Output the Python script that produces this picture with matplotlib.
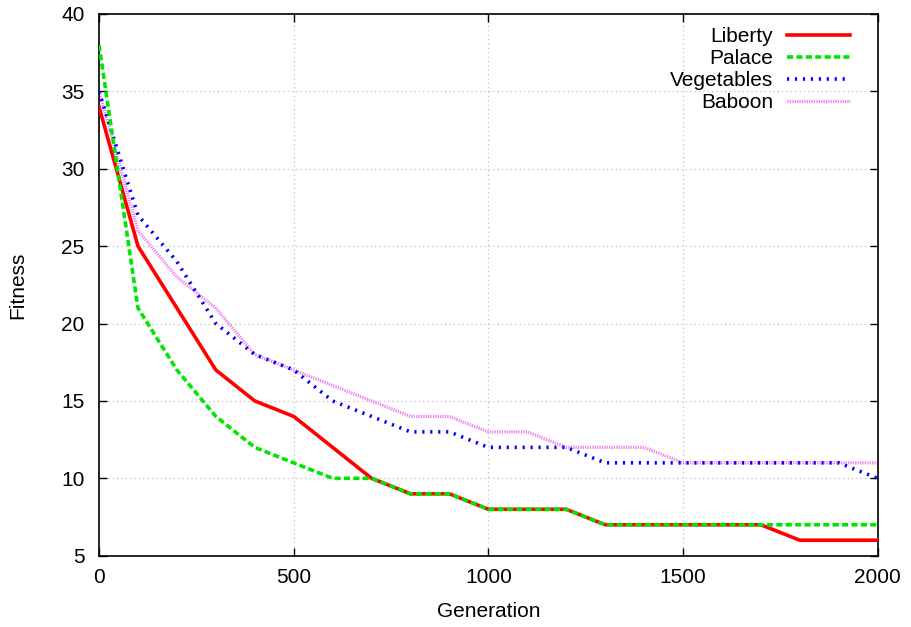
import matplotlib
matplotlib.use("Agg")
import matplotlib.pyplot as plt

plt.rcParams["font.family"] = ["Liberation Sans", "DejaVu Sans"]

generation = [0, 100, 200, 300, 400, 500, 600, 700, 800, 900, 1000,
              1100, 1200, 1300, 1400, 1500, 1600, 1700, 1800, 1900, 2000]
liberty = [34, 25, 21, 17, 15, 14, 12, 10, 9, 9, 8, 8, 8, 7, 7, 7, 7, 7, 6, 6, 6]
palace = [38, 21, 17, 14, 12, 11, 10, 10, 9, 9, 8, 8, 8, 7, 7, 7, 7, 7, 7, 7, 7]
vegetables = [35, 27, 24, 20, 18, 17, 15, 14, 13, 13, 12, 12, 12, 11, 11, 11, 11, 11, 11, 11, 10]
baboon = [35, 26, 23, 21, 18, 17, 16, 15, 14, 14, 13, 13, 12, 12, 12, 11, 11, 11, 11, 11, 11]

fig = plt.figure(figsize=(9.11, 6.27), dpi=100)
ax = fig.add_axes([0.1087, 0.1137, 0.8547, 0.864])

ax.plot(generation, liberty, color="#ff0000", lw=2.6, label="Liberty", zorder=3)
ax.plot(generation, palace, color="#00e600", lw=2.6, dashes=(1.7, 0.9), label="Palace", zorder=4)
ax.plot(generation, vegetables, color="#0000ff", lw=2.6, dashes=(0.6, 1.6), label="Vegetables", zorder=3)
ax.plot(generation, baboon, color="#ee82ee", lw=2.3, dashes=(0.4, 0.35), label="Baboon", zorder=2)

ax.set_xlim(0, 2000)
ax.set_ylim(5, 40)
ax.set_xticks([0, 500, 1000, 1500, 2000])
ax.set_yticks(range(5, 41, 5))
ax.grid(True, color="#c0c0c0", linestyle=(0, (1, 2.5)), lw=0.9)
ax.tick_params(direction="in", top=True, right=True, length=6, width=1,
               labelsize=15)
ax.tick_params(axis="x", pad=8.5)
ax.tick_params(axis="y", pad=10.5)
for s in ax.spines.values():
    s.set_linewidth(1.2)

ax.set_xlabel("Generation", fontsize=15)
ax.set_ylabel("Fitness", fontsize=15)
ax.xaxis.set_label_coords(0.5, -0.1035)
ax.xaxis.label.set_verticalalignment("center")
ax.yaxis.set_label_coords(-0.104, 0.5)
ax.yaxis.label.set_verticalalignment("center")

leg = ax.legend(loc="upper right", bbox_to_anchor=(0.964, 0.976), frameon=False,
                markerfirst=False, fontsize=15, handlelength=3.0,
                labelspacing=0.15, borderaxespad=0, borderpad=0,
                handletextpad=0.67)
for t in leg.get_texts():
    t.set_ha("right")

fig.savefig("out.png", dpi=100)
